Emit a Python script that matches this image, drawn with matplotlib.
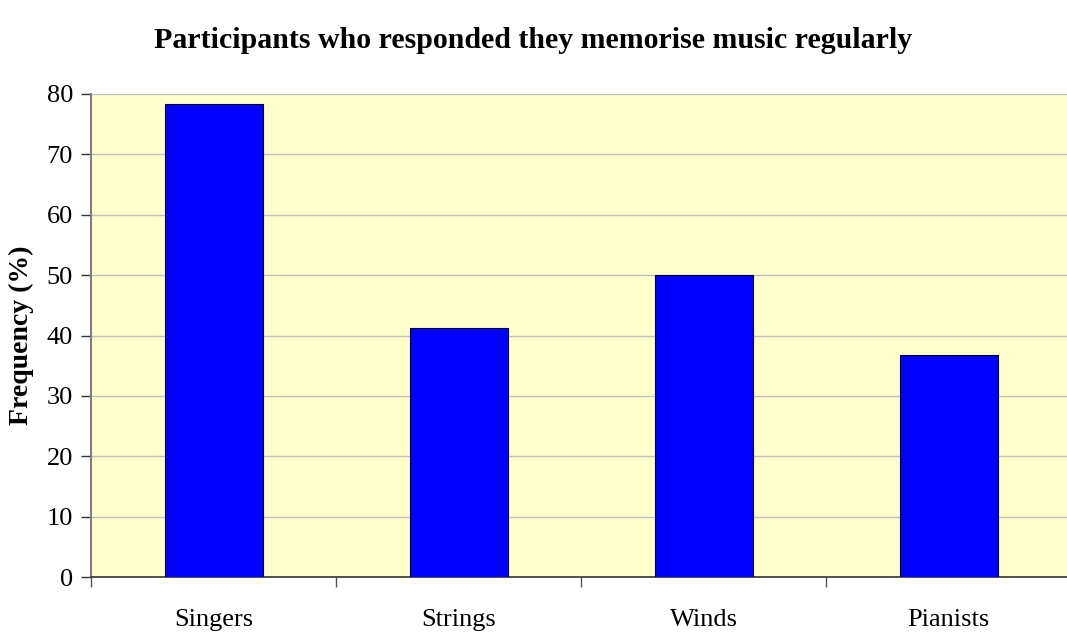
import matplotlib
matplotlib.use("Agg")
import matplotlib.pyplot as plt
import numpy as np

categories = ["Singers", "Strings", "Winds", "Pianists"]
frequency = [78.3, 41.3, 50.0, 36.8]
y_ticks = [0, 10, 20, 30, 40, 50, 60, 70, 80]

plt.rcParams["font.family"] = ["Liberation Serif", "DejaVu Serif"]

fig = plt.figure(figsize=(10.67, 6.33), dpi=100)
ax = fig.add_axes([91 / 1067, (633 - 577) / 633, 980 / 1067, 483 / 633])
ax.set_facecolor("#FFFFCC")

x = np.arange(len(categories))
ax.bar(x, frequency, width=0.4, color="#0000FF", edgecolor="#000033",
       linewidth=0.8, zorder=3)

ax.set_xlim(-0.5, len(categories) - 0.5)
ax.set_ylim(0, 80)
ax.set_yticks(y_ticks)
ax.set_yticklabels([str(v) for v in y_ticks], fontsize=19)
ax.yaxis.grid(True, color="#C0C0C0", linewidth=1.0, zorder=0)
ax.set_axisbelow(True)

# category labels centred, tick marks at category boundaries
ax.set_xticks(x)
ax.set_xticklabels(categories, fontsize=19)
ax.tick_params(axis="x", which="major", length=0, pad=23)
ax.set_xticks(np.arange(-0.5, len(categories) + 0.5, 1.0), minor=True)
ax.tick_params(axis="x", which="minor", length=7, width=1, color="#555555",
               direction="out")
ax.tick_params(axis="y", length=7, width=1, color="#333333", direction="out", pad=6)

for side in ("top", "right"):
    ax.spines[side].set_visible(False)
ax.spines["left"].set_color("#808080")
ax.spines["left"].set_linewidth(1.5)
ax.spines["bottom"].set_color("#333333")
ax.spines["bottom"].set_linewidth(1.2)

ax.set_ylabel("Frequency (%)", fontsize=20, fontweight="bold")
ax.yaxis.set_label_coords(-0.058, 0.5)

fig.text(0.5, 1 - 40 / 633, "Participants who responded they memorise music regularly",
         ha="center", va="center", fontsize=21.5, fontweight="bold")

fig.savefig("out.png", dpi=100, facecolor="white")
